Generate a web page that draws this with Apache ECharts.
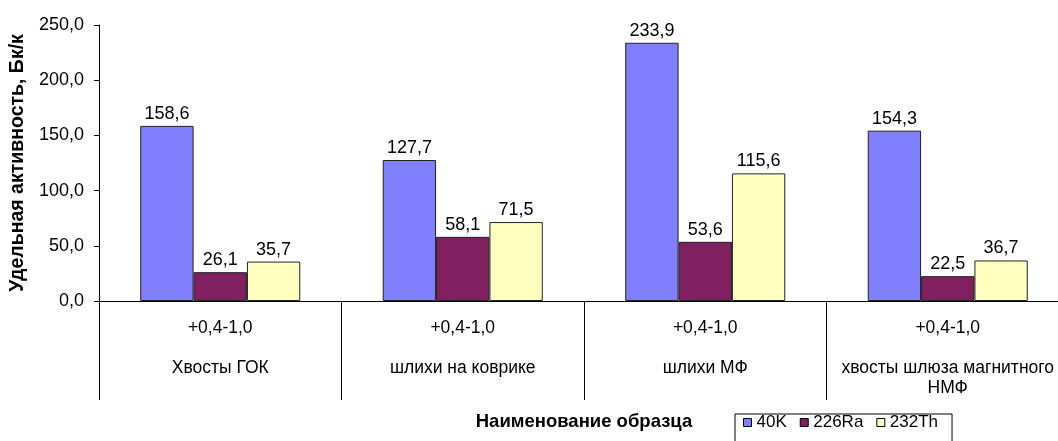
<!DOCTYPE html>
<html>
<head>
<meta charset="utf-8">
<script src="https://cdn.jsdelivr.net/npm/echarts@6/dist/echarts.min.js"></script>
<style>
  html, body { margin: 0; padding: 0; background: #fff; overflow: hidden; }
  #chart { width: 1069px; height: 441px; }
</style>
</head>
<body>
<div id="chart"></div>
<script>
// Sample groups: fraction size and sample name
const fractions = ['+0,4-1,0', '+0,4-1,0', '+0,4-1,0', '+0,4-1,0'];
const samples = ['Хвосты ГОК', 'шлихи на коврике', 'шлихи МФ', 'хвосты шлюза магнитного\nНМФ'];

// Specific activity by radionuclide, Bq/kg
const seriesNames = ['40K', '226Ra', '232Th'];
const k40 = [158.6, 127.7, 233.9, 154.3];
const ra226 = [26.1, 58.1, 53.6, 22.5];
const th232 = [35.7, 71.5, 115.6, 36.7];

const yTicks = { min: 0, max: 250, step: 50 };

const FONT = '"Liberation Sans", Arial, sans-serif';
const colors = ['#8080FF', '#802060', '#FFFFC0'];
const comma = v => Number(v).toFixed(1).replace('.', ',');

const categories = fractions.map((f, i) => f + '\n\n' + samples[i]);
const values = [k40, ra226, th232];

const chart = echarts.init(document.getElementById('chart'), null, { renderer: 'canvas' });
chart.setOption({
  animation: false,
  textStyle: { fontFamily: FONT, color: '#000' },
  grid: { left: 99, right: 0, top: 25, bottom: 140, containLabel: false },
  xAxis: {
    type: 'category',
    data: categories,
    axisLine: { lineStyle: { color: '#000', width: 1 } },
    axisTick: { show: true, length: 99, inside: false, lineStyle: { color: '#000', width: 1 } },
    axisLabel: {
      interval: 0, margin: 17, fontSize: 17.5, lineHeight: 20,
      color: '#000', fontFamily: FONT, align: 'center'
    }
  },
  yAxis: {
    type: 'value',
    min: yTicks.min, max: yTicks.max, interval: yTicks.step,
    name: 'Удельная активность, Бк/к',
    nameLocation: 'middle', nameGap: 70, nameRotate: 90,
    nameTextStyle: { fontSize: 19.5, fontWeight: 'bold', color: '#000', fontFamily: FONT },
    splitLine: { show: false },
    axisLine: { show: true, lineStyle: { color: '#000', width: 1 } },
    axisTick: { show: true, length: 5, lineStyle: { color: '#000' } },
    axisLabel: { fontSize: 18, color: '#000', margin: 15, fontFamily: FONT, formatter: comma }
  },
  legend: {
    data: seriesNames,
    left: 735, top: 414,
    orient: 'horizontal',
    borderColor: '#000', borderWidth: 1, borderRadius: 0,
    padding: [0, 14, 12, 8],
    itemWidth: 8, itemHeight: 8, itemGap: 13,
    icon: 'rect',
    itemStyle: { borderColor: '#000', borderWidth: 1 },
    textStyle: { fontSize: 17, color: '#000', fontFamily: FONT }
  },
  graphic: [{
    type: 'text', x: 584, y: 422,
    style: {
      text: 'Наименование образца', font: 'bold 18.5px ' + FONT, fill: '#000',
      align: 'center', verticalAlign: 'middle'
    }
  }],
  series: values.map((vals, i) => ({
    name: seriesNames[i],
    type: 'bar',
    data: vals,
    barGap: '0%',
    barCategoryGap: '34%',
    itemStyle: { color: colors[i], borderColor: '#222', borderWidth: 1 },
    label: {
      show: true, position: 'top', distance: 3,
      fontSize: 18, color: '#000', fontFamily: FONT,
      formatter: p => comma(p.value)
    }
  }))
});
</script>
</body>
</html>
